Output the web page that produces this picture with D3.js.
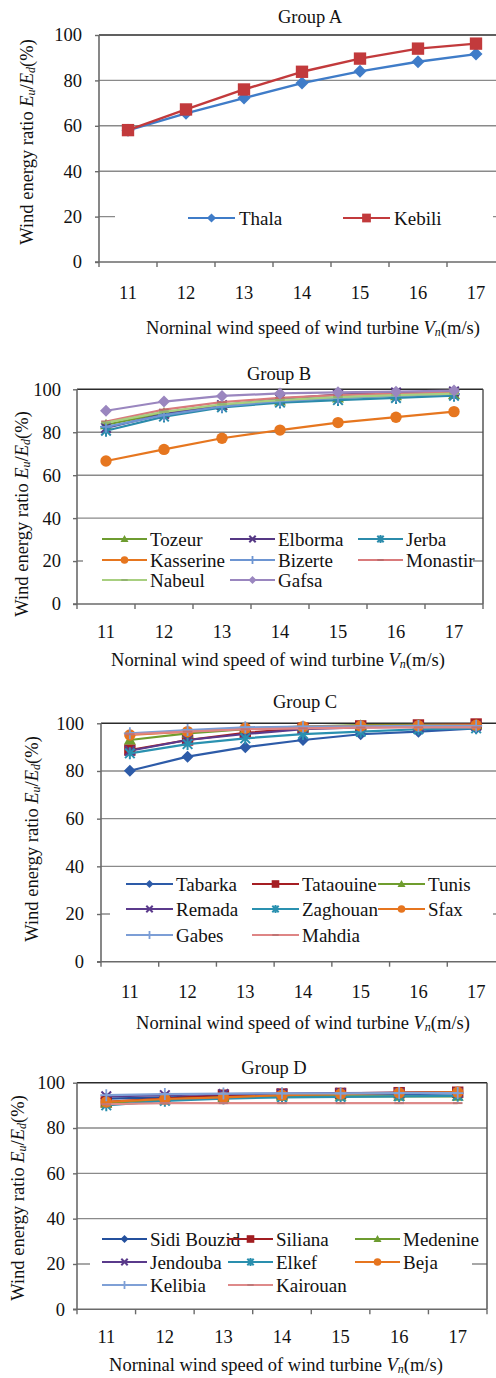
<!DOCTYPE html>
<html>
<head>
<meta charset="utf-8">
<script src="https://cdn.jsdelivr.net/npm/d3@7"></script>
<style>
  html, body { margin: 0; padding: 0; background: #fff; }
  svg { display: block; }
  svg text { font-family: "Liberation Serif", "Times New Roman", "DejaVu Serif", serif !important; fill: #111; }
</style>
</head>
<body>
<svg id="chart" width="496" height="1378" font-family="Liberation Serif, DejaVu Serif, serif"></svg>
<script>
// Nominal wind speeds (m/s) on the x axis and the y-axis tick values (%)
const windSpeeds = [11, 12, 13, 14, 15, 16, 17];
const yTickValues = [0, 20, 40, 60, 80, 100];
const groupTitles = ["Group A", "Group B", "Group C", "Group D"];

// Group A
const thala  = [58.0, 65.5, 72.2, 78.8, 84.0, 88.2, 91.6];
const kebili = [58.1, 67.2, 76.0, 83.8, 89.6, 94.0, 96.2];

// Group B
const tozeur    = [83.5, 89.0, 92.6, 94.6, 96.0, 97.0, 97.6];
const elborma   = [82.0, 88.5, 92.6, 95.5, 97.5, 98.5, 99.0];
const jerba     = [80.7, 87.3, 91.6, 93.8, 95.0, 96.0, 97.0];
const kasserine = [66.6, 72.0, 77.2, 81.0, 84.5, 87.0, 89.6];
const bizerte   = [82.5, 88.0, 92.0, 94.5, 96.0, 97.0, 97.8];
const monastir  = [85.0, 90.5, 94.0, 96.0, 97.3, 98.0, 98.5];
const nabeul    = [84.5, 89.5, 93.0, 95.0, 96.4, 97.3, 98.0];
const gafsa     = [90.0, 94.3, 96.9, 98.1, 98.6, 98.9, 99.4];

// Group C
const tabarka   = [80.1, 86.0, 90.0, 93.0, 95.4, 96.5, 97.9];
const tataouine = [88.8, 93.0, 96.0, 97.9, 98.9, 99.3, 99.7];
const tunis     = [93.0, 95.8, 97.5, 98.6, 99.2, 99.3, 99.4];
const remada    = [88.5, 93.0, 95.5, 97.5, 98.3, 98.6, 98.9];
const zaghouan  = [87.4, 91.3, 93.7, 95.5, 96.5, 97.5, 97.9];
const sfax      = [95.1, 96.5, 97.9, 98.6, 98.9, 99.0, 99.2];
const gabes     = [95.8, 97.2, 98.3, 98.6, 98.7, 98.9, 98.9];
const mahdia    = [95.4, 96.5, 97.5, 97.9, 98.2, 98.3, 98.3];

// Group D
const sidiBouzid = [93.0, 93.5, 94.0, 94.5, 94.8, 95.0, 95.3];
const siliana    = [91.5, 93.0, 94.5, 95.0, 95.3, 95.6, 95.8];
const medenine   = [91.0, 92.5, 93.5, 94.0, 94.0, 94.0, 94.0];
const jendouba   = [94.0, 94.5, 95.0, 95.2, 95.4, 95.5, 95.6];
const elkef      = [90.0, 92.0, 93.0, 93.5, 93.7, 94.0, 94.2];
const beja       = [91.5, 92.8, 93.5, 94.5, 95.0, 95.5, 95.8];
const kelibia    = [94.5, 95.0, 95.2, 95.3, 95.3, 95.4, 95.4];
const kairouan   = [90.5, 91.0, 91.0, 91.0, 91.0, 91.0, 91.0];

const FONT = "'Liberation Serif', 'DejaVu Serif', serif";
const FS = "18.5px";       // titles and tick labels
const LEGEND_FS = "19px";
const svg = d3.select("#chart");

// Panel layouts and series styling
const panels = [
  {
    title: groupTitles[0], left: 99, right: 505, top: 35, bottom: 262, border: false,
    titleX: 310, titleY: 17, tickPad: 13, xLabPad: 31, xTitleX: 313, xTitleY: 328,
    yTitleX: 27, yTitleY: 142, mr: 6.5, lmr: 4.6, lw: 2.4,
    legend: { x0: 115, x1: 493, y0: 203, y1: 234, cols: [188, 343], rows: [218], len: 47, gap: 4, wrapCols: 2 },
    series: [
      { name: "Thala",  values: thala,  color: "#3f7cc8", shape: "diamond" },
      { name: "Kebili", values: kebili, color: "#c23a3c", shape: "square" }
    ]
  },
  {
    title: groupTitles[1], left: 77, right: 483, top: 389.3, bottom: 604, border: true,
    titleX: 279, titleY: 374, tickPad: 12, xLabPad: 28, xTitleX: 278, xTitleY: 660,
    yTitleX: 22, yTitleY: 514, mr: 6, lmr: 4, lw: 2.2,
    legend: { x0: 83, x1: 473, y0: 527, y1: 592, cols: [102, 230, 358], rows: [539, 560, 580], len: 45, gap: 3, wrapCols: 3 },
    series: [
      { name: "Tozeur",    values: tozeur,    color: "#6e9c30", shape: "triangle" },
      { name: "Elborma",   values: elborma,   color: "#553884", shape: "x" },
      { name: "Jerba",     values: jerba,     color: "#2b8bab", shape: "star" },
      { name: "Kasserine", values: kasserine, color: "#e6761f", shape: "circle" },
      { name: "Bizerte",   values: bizerte,   color: "#6d95d2", shape: "plus" },
      { name: "Monastir",  values: monastir,  color: "#d97a7b", shape: "dash" },
      { name: "Nabeul",    values: nabeul,    color: "#a8cf80", shape: "dash" },
      { name: "Gafsa",     values: gafsa,     color: "#9a86bf", shape: "diamond" }
    ]
  },
  {
    title: groupTitles[2], left: 101, right: 505, top: 723.3, bottom: 961.7, border: false,
    titleX: 305, titleY: 702, tickPad: 13, xLabPad: 30, xTitleX: 303, xTitleY: 1023,
    yTitleX: 32, yTitleY: 839, mr: 6, lmr: 4, lw: 2.2,
    legend: { x0: 110, x1: 493, y0: 870, y1: 950, cols: [126, 252, 378], rows: [884, 909, 935], len: 47, gap: 3, wrapCols: 3 },
    series: [
      { name: "Tabarka",   values: tabarka,   color: "#2d5ba8", shape: "diamond" },
      { name: "Tataouine", values: tataouine, color: "#a51e23", shape: "square" },
      { name: "Tunis",     values: tunis,     color: "#6f9d2e", shape: "triangle" },
      { name: "Remada",    values: remada,    color: "#5b3a8c", shape: "x" },
      { name: "Zaghouan",  values: zaghouan,  color: "#2a91b0", shape: "star" },
      { name: "Sfax",      values: sfax,      color: "#e6751f", shape: "circle" },
      { name: "Gabes",     values: gabes,     color: "#7c9ed6", shape: "plus" },
      { name: "Mahdia",    values: mahdia,    color: "#de8585", shape: "dash" }
    ]
  },
  {
    title: groupTitles[3], left: 77, right: 487, top: 1082.7, bottom: 1309.3, border: true,
    titleX: 274, titleY: 1068, tickPad: 8, xLabPad: 28, xTitleX: 276, xTitleY: 1365,
    yTitleX: 18, yTitleY: 1198, mr: 6, lmr: 4, lw: 2.2,
    legend: { x0: 90, x1: 472, y0: 1225, y1: 1298, cols: [102, 228, 355], rows: [1239, 1262, 1285], len: 45, gap: 3, wrapCols: 3 },
    series: [
      { name: "Sidi Bouzid", values: sidiBouzid, color: "#24509d", shape: "diamond" },
      { name: "Siliana",     values: siliana,    color: "#a11d21", shape: "square" },
      { name: "Medenine",    values: medenine,   color: "#6d9c30", shape: "triangle" },
      { name: "Jendouba",    values: jendouba,   color: "#5a3a8b", shape: "x" },
      { name: "Elkef",       values: elkef,      color: "#2a8fae", shape: "star" },
      { name: "Beja",        values: beja,       color: "#e6751f", shape: "circle" },
      { name: "Kelibia",     values: kelibia,    color: "#7fa0d6", shape: "plus" },
      { name: "Kairouan",    values: kairouan,   color: "#de8a8a", shape: "dash" }
    ]
  }
];

// Draw one marker glyph centred on the group's origin
function drawMarker(g, shape, r, color) {
  switch (shape) {
    case "diamond":
      g.append("path").attr("d", `M0,${-r}L${r},0L0,${r}L${-r},0Z`).attr("fill", color);
      break;
    case "square":
      g.append("rect").attr("x", -r * 0.95).attr("y", -r * 0.95).attr("width", r * 1.9).attr("height", r * 1.9).attr("fill", color);
      break;
    case "triangle":
      g.append("path").attr("d", `M0,${-r}L${r},${r * 0.75}L${-r},${r * 0.75}Z`).attr("fill", color);
      break;
    case "circle":
      g.append("circle").attr("r", r * 0.95).attr("fill", color);
      break;
    case "x":
      g.append("path").attr("d", `M${-r * 0.8},${-r * 0.8}L${r * 0.8},${r * 0.8}M${-r * 0.8},${r * 0.8}L${r * 0.8},${-r * 0.8}`)
        .attr("stroke", color).attr("stroke-width", 2).attr("fill", "none");
      break;
    case "star":
      g.append("path").attr("d", `M${-r * 0.8},${-r * 0.8}L${r * 0.8},${r * 0.8}M${-r * 0.8},${r * 0.8}L${r * 0.8},${-r * 0.8}M0,${-r}L0,${r}`)
        .attr("stroke", color).attr("stroke-width", 2).attr("fill", "none");
      break;
    case "plus":
      g.append("path").attr("d", `M${-r},0L${r},0M0,${-r}L0,${r}`)
        .attr("stroke", color).attr("stroke-width", 1.8).attr("fill", "none");
      break;
    case "dash":
      g.append("rect").attr("x", -r * 0.8).attr("y", -1).attr("width", r * 1.6).attr("height", 2).attr("fill", d3.color(color).darker(0.4));
      break;
  }
}

// Rotated y-axis title with italic symbols and subscripts
function yTitle(g, x, y) {
  const t = g.append("text")
    .attr("transform", `translate(${x},${y}) rotate(-90)`)
    .attr("text-anchor", "middle")
    .attr("dominant-baseline", "central")
    .style("font-family", FONT)
    .style("font-size", FS);
  t.append("tspan").text("Wind energy ratio ");
  t.append("tspan").style("font-style", "italic").text("E");
  t.append("tspan").style("font-style", "italic").style("font-size", "12px").attr("dy", 4).text("u");
  t.append("tspan").attr("dy", -4).text("/");
  t.append("tspan").style("font-style", "italic").text("E");
  t.append("tspan").style("font-style", "italic").style("font-size", "12px").attr("dy", 4).text("d");
  t.append("tspan").attr("dy", -4).text("(%)");
}

// X-axis title
function xTitle(g, x, y) {
  const t = g.append("text")
    .attr("x", x).attr("y", y)
    .attr("text-anchor", "middle")
    .attr("dominant-baseline", "central")
    .style("font-family", FONT)
    .style("font-size", FS);
  t.append("tspan").text("Norninal wind speed of wind turbine ");
  t.append("tspan").style("font-style", "italic").text("V");
  t.append("tspan").style("font-style", "italic").style("font-size", "12px").attr("dy", 4).text("n");
  t.append("tspan").attr("dy", -4).text("(m/s)");
}

panels.forEach(p => {
  const g = svg.append("g");
  const x = d3.scaleBand().domain(windSpeeds).range([p.left, p.right]).paddingInner(0).paddingOuter(0);
  const y = d3.scaleLinear().domain([0, 100]).range([p.bottom, p.top]);
  const cx = v => x(v) + x.bandwidth() / 2;

  // Horizontal gridlines
  g.append("g").selectAll("line")
    .data(yTickValues.filter(v => v > 0))
    .join("line")
    .attr("x1", p.left).attr("x2", p.border ? p.right : 496)
    .attr("y1", d => y(d)).attr("y2", d => y(d))
    .attr("stroke", d => d === 100 ? "#2b2b2b" : "#8a8a8a")
    .attr("stroke-width", d => d === 100 ? 1.6 : 1.4);

  if (p.border) {
    g.append("line").attr("x1", p.right).attr("x2", p.right)
      .attr("y1", p.top).attr("y2", p.bottom)
      .attr("stroke", "#4a4a4a").attr("stroke-width", 1.4);
  }

  // Y axis
  const yAxis = g.append("g").attr("transform", `translate(${p.left},0)`)
    .call(d3.axisLeft(y).tickValues(yTickValues).tickSize(4).tickPadding(p.tickPad).tickFormat(d3.format("d")));
  yAxis.attr("font-family", null);
  yAxis.select(".domain").attr("stroke", "#6a6a6a").attr("stroke-width", 1.6).attr("d", `M0,${p.bottom}V${p.top}`);
  yAxis.selectAll(".tick line").attr("stroke", "#6a6a6a").attr("stroke-width", 1.4);
  yAxis.selectAll(".tick text").style("font-size", FS).style("font-family", FONT).attr("fill", "#111");

  // X axis: labels centred in categories, tick marks between categories
  const xAxis = g.append("g").attr("transform", `translate(0,${p.bottom})`)
    .call(d3.axisBottom(x).tickSize(0).tickPadding(p.xLabPad - 7));
  xAxis.attr("font-family", null);
  xAxis.select(".domain").attr("stroke", "#6a6a6a").attr("stroke-width", 1.6)
    .attr("d", `M${p.left - 4},0H${p.border ? p.right : 496}`);
  xAxis.selectAll(".tick text").style("font-size", FS).style("font-family", FONT).attr("fill", "#111");
  const boundaries = windSpeeds.map(v => x(v)).concat([p.right]).filter(b => b <= 496);
  g.append("g").selectAll("line").data(boundaries).join("line")
    .attr("x1", d => d).attr("x2", d => d)
    .attr("y1", p.bottom).attr("y2", p.bottom + 5)
    .attr("stroke", "#6a6a6a").attr("stroke-width", 1.4);

  // Titles
  g.append("text").attr("x", p.titleX).attr("y", p.titleY)
    .attr("text-anchor", "middle").attr("dominant-baseline", "central")
    .style("font-family", FONT).style("font-size", FS).text(p.title);
  yTitle(g, p.yTitleX, p.yTitleY);
  xTitle(g, p.xTitleX, p.xTitleY);

  // Series lines and markers
  const line = d3.line().x((d, i) => cx(windSpeeds[i])).y(d => y(d));
  p.series.forEach(s => {
    const sg = g.append("g");
    sg.append("path").datum(s.values).attr("d", line)
      .attr("fill", "none").attr("stroke", s.color).attr("stroke-width", p.lw)
      .attr("stroke-linejoin", "round");
    s.values.forEach((v, i) => {
      const mg = sg.append("g").attr("transform", `translate(${cx(windSpeeds[i])},${y(v)})`);
      drawMarker(mg, s.shape, p.mr, s.color);
    });
  });

  // Legend
  const L = p.legend;
  g.append("rect").attr("x", L.x0).attr("y", L.y0)
    .attr("width", L.x1 - L.x0).attr("height", L.y1 - L.y0).attr("fill", "#fff");
  p.series.forEach((s, i) => {
    const col = i % L.wrapCols, row = Math.floor(i / L.wrapCols);
    const lx = L.cols[col], ly = L.rows[row];
    const lg = g.append("g");
    lg.append("line").attr("x1", lx).attr("x2", lx + L.len).attr("y1", ly).attr("y2", ly)
      .attr("stroke", s.color).attr("stroke-width", 2.2);
    const mg = lg.append("g").attr("transform", `translate(${lx + L.len / 2},${ly})`);
    drawMarker(mg, s.shape, p.lmr, s.color);
    lg.append("text").attr("x", lx + L.len + L.gap).attr("y", ly)
      .attr("dominant-baseline", "central")
      .style("font-family", FONT).style("font-size", LEGEND_FS).text(s.name);
  });
});
</script>
</body>
</html>
